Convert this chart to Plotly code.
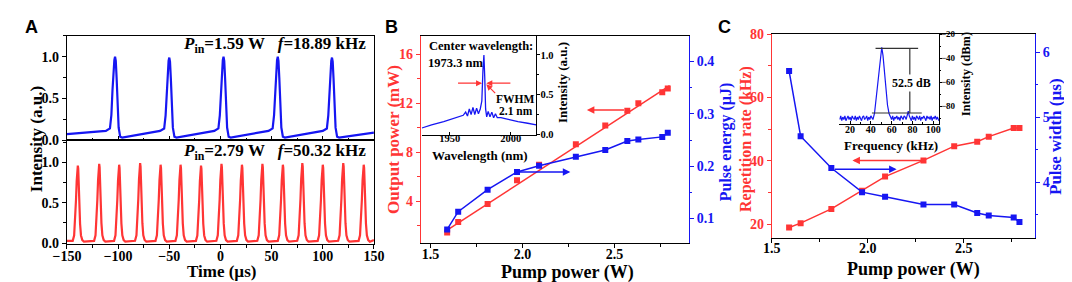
import plotly.graph_objects as go

W, H = 1072, 282
RED = '#FF3535'
BLUE = '#1616F2'
SERIF = 'Liberation Serif'
SANS = 'Liberation Sans'

# ---------------- Tick labels ----------------
a_x_ticks = [-150, -100, -50, 0, 50, 100, 150]
a_y_ticks = [0.0, 0.5, 1.0]
b_x_ticks = [1.5, 2.0, 2.5]
b_left_ticks = [4, 8, 12, 16]
b_right_ticks = [0.1, 0.2, 0.3, 0.4]
b_in_x_ticks = [1950, 2000]
b_in_y_ticks = [0.0, 0.5, 1.0]
c_x_ticks = [1.5, 2.0, 2.5]
c_left_ticks = [20, 40, 60, 80]
c_right_ticks = [4, 5, 6]
c_in_x_ticks = [20, 40, 60, 80, 100]
c_in_y_ticks = [-20, -40, -60, -80]

# ---------------- Panel A: pulse trains ----------------
a_top_peaks = [-103, -50, 3, 56, 109]
a_top_amp = [1.0, 0.99, 1.0, 1.0, 0.99]
a_top_shape_dt = [-9, -5, -3.6, -2.5, -1.5, -0.7, 0, 0.7, 1.5, 2.5, 3.5, 5, 7]
a_top_shape_v = [0.11, 0.14, 0.3, 0.6, 0.85, 0.96, 1.0, 0.95, 0.75, 0.4, 0.15, 0.04, 0.03]
a_top_edges_t = [-150, 150]
a_top_edges_v = [0.07, 0.09]

a_bot_peaks = [-139.4, -118.5, -99, -78.5, -58.5, -39, -19, 1, 21, 41, 61, 80, 100, 120, 140]
a_bot_amp = [0.96, 0.98, 0.97, 0.99, 0.97, 0.97, 0.96, 0.98, 0.97, 0.98, 0.97, 0.99, 0.97, 0.99, 0.97]
a_bot_shape_dt = [-5, -3.6, -2.6, -1.8, -1.1, -0.5, 0, 0.4, 0.8, 1.4, 2.2, 3.1, 4.4, 6]
a_bot_shape_v = [0.03, 0.1, 0.3, 0.55, 0.8, 0.95, 1.0, 0.96, 0.72, 0.5, 0.25, 0.1, 0.04, 0.02]
a_bot_edges_t = [-150, 150]
a_bot_edges_v = [0.03, 0.04]

# ---------------- Panel B ----------------
b_pump = [1.59, 1.65, 1.81, 1.97, 2.09, 2.29, 2.45, 2.57, 2.63, 2.76, 2.79]
b_power_mw = [1.47, 2.32, 3.79, 5.72, 7.0, 8.66, 10.2, 11.4, 12.0, 12.9, 13.2]
b_fit_x = [1.59, 2.80]
b_fit_y = [1.65, 13.45]
b_energy_uj = [0.079, 0.113, 0.155, 0.189, 0.201, 0.218, 0.231, 0.248, 0.251, 0.256, 0.264]

b_spec_nm = [1927, 1935, 1945, 1955, 1961, 1963, 1964.5, 1966, 1967.5, 1969, 1970.5, 1972, 1973.5, 1975,
             1976.3, 1977.2, 1978, 1978.7, 1979.4, 1980.3, 1981.5, 1983, 1984.5, 1986, 1987.5, 1989,
             1992, 1998, 2006, 2014, 2021]
b_spec_int = [0.08, 0.12, 0.16, 0.21, 0.24, 0.28, 0.23, 0.32, 0.25, 0.34, 0.25, 0.33, 0.26, 0.32,
              0.42, 0.8, 1.0, 0.72, 0.32, 0.22, 0.29, 0.22, 0.28, 0.21, 0.26, 0.21,
              0.21, 0.19, 0.16, 0.14, 0.12]

# ---------------- Panel C ----------------
c_pump = [1.59, 1.65, 1.81, 1.97, 2.09, 2.29, 2.45, 2.57, 2.63, 2.76, 2.79]
c_rate_khz = [18.9, 20.3, 24.8, 30.5, 35.0, 40.1, 44.6, 46.0, 47.6, 50.3, 50.3]
c_width_us = [5.71, 4.71, 4.22, 3.85, 3.78, 3.66, 3.66, 3.53, 3.49, 3.46, 3.39]

c_rf_khz = [10, 11, 12, 13, 14, 15, 16, 17, 18, 19, 20, 21, 22, 23, 24, 25, 26, 27, 28, 29, 30, 31, 32,
            33, 34, 35, 36, 37, 38, 39, 40, 41, 42, 43.5, 45, 46.5, 48,
            49.3, 50.5, 51.7, 53, 54.5, 56, 57.5, 59, 60, 61, 62, 63, 64, 65, 66, 67, 68, 69, 70, 71, 72,
            73, 74, 75, 76, 77, 78, 79, 80, 81, 82, 83, 84, 85, 86, 87, 88, 89, 90, 91, 92, 93, 94, 95,
            96, 97, 98, 99, 100, 101, 102, 103, 104, 105.5]
c_rf_dbm = [-91, -88, -92, -89, -91, -88, -92, -90, -88, -91, -89, -92, -88, -90, -91, -88, -92, -89,
            -91, -88, -90, -92, -89, -88, -91, -90, -88, -92, -89, -91, -88, -90, -91, -86, -74,
            -60, -46, -36, -31, -38, -52, -66, -79, -86, -89, -91, -88, -92, -89, -90, -88, -91, -89,
            -92, -88, -90, -91, -88, -89, -91, -87, -84, -88, -90, -92, -88, -91, -89, -92, -88, -90,
            -91, -88, -92, -89, -90, -88, -91, -92, -88, -90, -89, -91, -88, -92, -89, -90, -88, -91,
            -89, -92, -90]


def build_train(peaks, amps, dts, vals, edges_t, edges_v):
    xs, ys = [edges_t[0]], [edges_v[0]]
    for p, a in zip(peaks, amps):
        for d, v in zip(dts, vals):
            t = p + d
            if edges_t[0] < t < edges_t[1]:
                xs.append(t)
                ys.append(v * a)
    xs.append(edges_t[1])
    ys.append(edges_v[1])
    return xs, ys


def px(x):
    return x / W


def py(y):
    return 1 - y / H


fig = go.Figure()

ax_top_x, ax_top_y = build_train(a_top_peaks, a_top_amp, a_top_shape_dt, a_top_shape_v, a_top_edges_t, a_top_edges_v)
ax_bot_x, ax_bot_y = build_train(a_bot_peaks, a_bot_amp, a_bot_shape_dt, a_bot_shape_v, a_bot_edges_t, a_bot_edges_v)

fig.add_trace(go.Scatter(x=ax_top_x, y=ax_top_y, mode='lines', line=dict(color=BLUE, width=2.2),
                         xaxis='x', yaxis='y', showlegend=False))
fig.add_trace(go.Scatter(x=ax_bot_x, y=ax_bot_y, mode='lines', line=dict(color=RED, width=2.2),
                         xaxis='x2', yaxis='y2', showlegend=False))

# B main
fig.add_trace(go.Scatter(x=b_fit_x, y=b_fit_y, mode='lines', line=dict(color=RED, width=1.5),
                         xaxis='x3', yaxis='y3', showlegend=False))
fig.add_trace(go.Scatter(x=b_pump, y=b_power_mw, mode='markers', marker=dict(color=RED, symbol='square', size=6),
                         xaxis='x3', yaxis='y3', showlegend=False))
fig.add_trace(go.Scatter(x=b_pump, y=b_energy_uj, mode='lines+markers', line=dict(color=BLUE, width=1.5),
                         marker=dict(color=BLUE, symbol='square', size=6),
                         xaxis='x3', yaxis='y4', showlegend=False))
# B inset
fig.add_trace(go.Scatter(x=b_spec_nm, y=b_spec_int, mode='lines', line=dict(color=BLUE, width=1.3),
                         xaxis='x5', yaxis='y5', showlegend=False))
# C main
fig.add_trace(go.Scatter(x=c_pump, y=c_rate_khz, mode='lines+markers', line=dict(color=RED, width=1.5),
                         marker=dict(color=RED, symbol='square', size=6),
                         xaxis='x6', yaxis='y6', showlegend=False))
fig.add_trace(go.Scatter(x=c_pump, y=c_width_us, mode='lines+markers', line=dict(color=BLUE, width=1.5),
                         marker=dict(color=BLUE, symbol='square', size=6),
                         xaxis='x6', yaxis='y7', showlegend=False))
# C inset
fig.add_trace(go.Scatter(x=c_rf_khz, y=c_rf_dbm, mode='lines', line=dict(color=BLUE, width=1.2),
                         xaxis='x8', yaxis='y8', showlegend=False))


def axis(domain, rng, anchor, ticks_at, color='black', fmt='{:g}', minor=None, ticks='outside', labels=True,
         side=None, mirror=False, size=14, ticklen=4, overlaying=None, standoff=None):
    d = dict(domain=domain, range=rng, anchor=anchor, showgrid=False, zeroline=False,
             showline=True, linecolor=color, linewidth=1.3, ticks=ticks, ticklen=ticklen,
             tickcolor=color, tickwidth=1.2, showticklabels=labels, mirror=mirror,
             tickmode='array', tickvals=ticks_at,
             ticktext=['<b>' + fmt.format(v).replace('-', '\u2212') + '</b>' for v in ticks_at],
             tickfont=dict(family=SERIF, size=size, color=color, weight='bold'))
    if minor is not None:
        d['minor'] = dict(tickmode='linear', tick0=0, dtick=minor, ticks=ticks, ticklen=ticklen * 0.6,
                          tickcolor=color, tickwidth=1.1, showgrid=False)
    if side:
        d['side'] = side
    if overlaying:
        d['overlaying'] = overlaying
    if standoff is not None:
        d['ticklabelstandoff'] = standoff
    return d


F1 = '{:.1f}'
xA = [px(46), px(360)]
layout = dict(
    width=W, height=H, margin=dict(l=0, r=0, t=0, b=0),
    paper_bgcolor='white', plot_bgcolor='white', showlegend=False,
    # Panel A
    xaxis=axis(xA, [-150, 150], 'y', a_x_ticks, minor=25, ticks='inside', labels=False, mirror=True),
    yaxis=axis([py(132), py(22)], [-0.005, 1.25], 'x', a_y_ticks, fmt=F1, minor=0.25, mirror=True),
    xaxis2=axis(xA, [-150, 150], 'y2', a_x_ticks, minor=25, mirror=True, standoff=-5),
    yaxis2=axis([py(241), py(132)], [-0.01, 1.27], 'x2', a_y_ticks, fmt=F1, minor=0.25, mirror=True),
    # Panel B
    xaxis3=axis([px(408), px(682)], [1.447, 2.904], 'y3', b_x_ticks, fmt=F1, minor=0.25, mirror=True,
                standoff=-6),
    yaxis3=axis([py(240), py(22)], [0.6, 17.5], 'x3', b_left_ticks, color=RED, minor=2),
    yaxis4=axis([py(240), py(22)], [0.053, 0.449], 'x3', b_right_ticks, color=BLUE, fmt=F1, minor=0.05,
                side='right', overlaying='y3'),
    xaxis5=axis([px(409), px(526)], [1927, 2021], 'y5', b_in_x_ticks, ticks='inside', ticklen=3,
                size=10.5, mirror=True, standoff=-6),
    yaxis5=axis([py(126), py(22)], [-0.005, 1.24], 'x5', b_in_y_ticks, fmt=F1, minor=0.25, side='right',
                size=10.5, ticklen=3, standoff=-2),
    # Panel C
    xaxis6=axis([px(767), px(1036)], [1.5, 2.87], 'y6', c_x_ticks, fmt=F1, minor=0.25, mirror=True,
                standoff=-7),
    yaxis6=axis([py(235), py(20)], [15.5, 80], 'x6', c_left_ticks, color=RED, minor=10),
    yaxis7=axis([py(235), py(20)], [3.14, 6.28], 'x6', c_right_ticks, color=BLUE, minor=0.5,
                side='right', overlaying='y6'),
    xaxis8=axis([px(836), px(938)], [9.6, 105.6], 'y8', c_in_x_ticks, minor=10, ticks='inside', ticklen=3,
                size=10, mirror=True, standoff=-4),
    yaxis8=axis([py(115), py(20)], [-95, -20], 'x8', c_in_y_ticks, minor=10, side='right',
                size=9, ticklen=2, standoff=-3),
)
fig.update_layout(**layout)


def text(x, y, s, size=17, color='black', angle=0, xanchor='center', family=SERIF, bg=None):
    a = dict(x=px(x), y=py(y), xref='paper', yref='paper', text=s, showarrow=False,
             xanchor=xanchor, yanchor='middle', textangle=angle,
             font=dict(family=family, size=size, color=color, weight='bold'))
    if bg:
        a['bgcolor'] = bg
    fig.add_annotation(**a)


NB = '\u00a0'
# Panel letters
text(10, 13, 'A', size=18, family=SANS)
text(378, 13, 'B', size=18, family=SANS)
text(719, 13, 'C', size=18, family=SANS)

# Panel A texts
text(15, 131, 'Intensity (a.u.)', angle=-90)
text(204, 270, 'Time (µs)')
text(354, 32, '<i>P</i><sub>in</sub>=1.59' + NB + 'W' + NB + NB + NB + '<i>f</i>=18.89' + NB + 'kHz', xanchor='right')
text(354, 144, '<i>P</i><sub>in</sub>=2.79' + NB + 'W' + NB + NB + NB + '<i>f</i>=50.32' + NB + 'kHz', xanchor='right')

# Panel B texts
text(380, 131, 'Output power (mW)', color=RED, angle=-90)
text(721, 133, 'Pulse energy (µJ)', size=16, color=BLUE, angle=-90)
text(558, 271, 'Pump power (W)', size=18)
text(468, 148, 'Wavelength (nm)', size=13)
text(553, 71, 'Intensity (a.u.)', size=13, angle=-90)
text(469, 33, 'Center wavelength:', size=12.5)
text(413, 50, '1973.3 nm', size=12.5, xanchor='left')
text(504, 88, 'FWHM', size=11.5)
text(505, 101, '2.1 nm', size=11.5)

# Panel C texts
text(740, 130, 'Repetition rate (kHz)', size=16, color=RED, angle=-90)
text(1057, 128, 'Pulse width (µs)', color=BLUE, angle=-90)
text(912, 268, 'Pump power (W)', size=18)
text(889, 137, 'Frequency (kHz)', size=13)
text(966, 62, 'Intensity (dBm)', size=12.5, angle=-90)


def arrow(xr, yr, x0, y0, x1, y1, color, head=2, width=1.5, size=1.0):
    fig.add_annotation(x=x1, y=y1, ax=x0, ay=y0, xref=xr, yref=yr, axref=xr, ayref=yr, text='',
                       showarrow=True, arrowhead=head, arrowsize=size, arrowwidth=width, arrowcolor=color)


# B arrows
arrow('x3', 'y3', 2.56, 11.45, 2.35, 11.45, RED)
arrow('x3', 'y4', 1.97, 0.189, 2.26, 0.189, BLUE)
# B inset FWHM arrows
arrow('x5', 'y5', 1955.5, 0.645, 1976.5, 0.645, RED, width=1.2)
arrow('x5', 'y5', 2001, 0.645, 1980, 0.645, RED, width=1.2)
arrow('x5', 'y5', 1988.5, 0.5, 1980, 0.63, RED, width=1.2)
# C arrows
arrow('x6', 'y6', 2.29, 40.1, 1.92, 40.1, RED)
arrow('x6', 'y7', 1.82, 4.2, 2.15, 4.2, BLUE)

# C inset dimension lines (52.5 dB)
c_dim_top = -31.9
c_dim_bot = -85.6
fig.add_trace(go.Scatter(x=[44.5, 85.5], y=[c_dim_top, c_dim_top], mode='lines', line=dict(color='#333333', width=1.2),
                         xaxis='x8', yaxis='y8', showlegend=False))
fig.add_trace(go.Scatter(x=[41, 89], y=[c_dim_bot, c_dim_bot], mode='lines', line=dict(color='#333333', width=1.2),
                         xaxis='x8', yaxis='y8', showlegend=False))
fig.add_trace(go.Scatter(x=[77.5, 77.5], y=[c_dim_top, c_dim_bot], mode='lines', line=dict(color='#333333', width=1.2),
                         xaxis='x8', yaxis='y8', showlegend=False))
text(910, 72, '52.5 dB', size=12, bg='white')

fig.write_html('out.html')
